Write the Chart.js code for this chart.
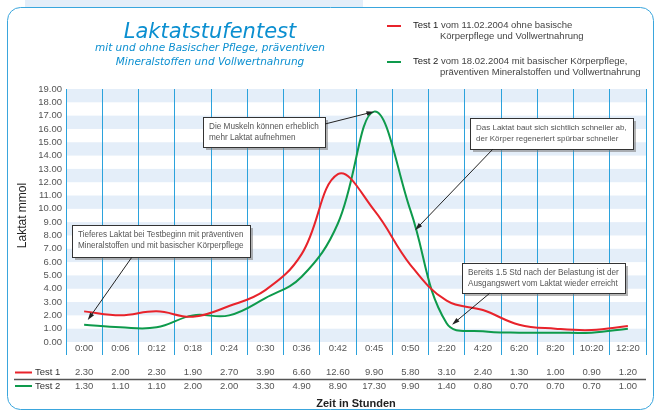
<!DOCTYPE html>
<html>
<head>
<meta charset="utf-8">
<script src="https://cdn.jsdelivr.net/npm/chart.js@4.4.1/dist/chart.umd.min.js"></script>
<style>
  html, body { margin: 0; padding: 0; background: #fff; }
  canvas { display: block; }
</style>
</head>
<body>
<canvas id="chart" width="656" height="411"></canvas>
<script>
"use strict";

// --- Daten ---
const zeiten = ['0:00', '0:06', '0:12', '0:18', '0:24', '0:30', '0:36', '0:42',
                '0:45', '0:50', '2:20', '4:20', '6:20', '8:20', '10:20', '12:20'];
const test1 = [2.30, 2.00, 2.30, 1.90, 2.70, 3.90, 6.60, 12.60, 9.90, 5.80, 3.10, 2.40, 1.30, 1.00, 0.90, 1.20];
const test2 = [1.30, 1.10, 1.10, 2.00, 2.00, 3.30, 4.90, 8.90, 17.30, 9.90, 1.40, 0.80, 0.70, 0.70, 0.70, 1.00];

const titel = 'Laktatstufentest';
const untertitel = ['mit und ohne Basischer Pflege, präventiven', 'Mineralstoffen und Vollwertnahrung'];
const legende1 = ['Test 1', 'vom 11.02.2004 ohne basische', 'Körperpflege und Vollwertnahrung'];
const legende2 = ['Test 2', 'vom 18.02.2004 mit basischer Körperpflege,', 'präventiven Mineralstoffen und Vollwertnahrung'];

const hinweisTexte = [
    ['Die Muskeln können erheblich', 'mehr Laktat aufnehmen'],
    ['Das Laktat baut sich sichtlich schneller ab,', 'der Körper regeneriert spürbar schneller'],
    ['Tieferes Laktat bei Testbeginn mit präventiven', 'Mineralstoffen und mit basischer Körperpflege'],
    ['Bereits 1.5 Std nach der Belastung ist der', 'Ausgangswert vom Laktat wieder erreicht']
];
// Pfeilziele in Datenkoordinaten (Kategorie-Index, mmol)
const hinweisZiele = [[8, 17.3], [9.13, 8.4], [0.1, 1.65], [10.15, 1.3]];


const ROT = '#e8232b';
const GRUEN = '#0e9a4c';
const BLAU = '#2ba2dc';
const FONT = '"Liberation Sans", Arial, sans-serif';

// Kästchen: x, y, Breite, Höhe, Pfeil-Start
const hinweisBoxen = [
    { x: 203, y: 117, w: 122, h: 30, sx: 325, sy: 124 },
    { x: 470, y: 118, w: 163, h: 31, sx: 493, sy: 149 },
    { x: 72, y: 225, w: 178, h: 32, sx: 132, sy: 257 },
    { x: 462, y: 263, w: 163, h: 30, sx: 490, sy: 293 }
];


function pfeil(c, x1, y1, x2, y2) {
    const a = Math.atan2(y2 - y1, x2 - x1);
    c.strokeStyle = '#222';
    c.fillStyle = '#222';
    c.lineWidth = 1;
    c.beginPath();
    c.moveTo(x1, y1);
    c.lineTo(x2 - 5 * Math.cos(a), y2 - 5 * Math.sin(a));
    c.stroke();
    c.beginPath();
    c.moveTo(x2, y2);
    c.lineTo(x2 - 8 * Math.cos(a - 0.3), y2 - 8 * Math.sin(a - 0.3));
    c.lineTo(x2 - 8 * Math.cos(a + 0.3), y2 - 8 * Math.sin(a + 0.3));
    c.closePath();
    c.fill();
}


const hintergrund = {
    id: 'hintergrund',
    beforeDraw(chart) {
        const c = chart.ctx;
        const area = chart.chartArea;
        const y = chart.scales.y;
        c.save();
        c.fillStyle = '#fff';
        c.fillRect(0, 0, chart.width, chart.height);
        c.fillStyle = '#e4eef9';
        c.fillRect(25, 0, 338, 7);

        // Rahmen
        c.strokeStyle = '#3aa6dd';
        c.lineWidth = 1;
        c.beginPath();
        c.roundRect(7.5, 7.5, 646, 402, 13);
        c.stroke();

        // Streifen
        c.fillStyle = '#e4eef9';
        for (let v = 0; v < 19; v += 2) {
            const top = y.getPixelForValue(v + 1);
            const bottom = y.getPixelForValue(v);
            c.fillRect(area.left, top, area.right - area.left, bottom - top);
        }
        c.restore();
    }
};


const beschriftung = {
    id: 'beschriftung',
    afterDraw(chart) {
        const c = chart.ctx;
        const x = chart.scales.x;
        const y = chart.scales.y;
        c.save();

        // Titel
        c.fillStyle = '#0b8fd0';
        c.textAlign = 'center';
        c.textBaseline = 'alphabetic';
        c.font = 'italic 21px "DejaVu Sans", sans-serif';
        c.fillText(titel, 210, 38);
        c.font = 'italic 10.5px "DejaVu Sans", sans-serif';
        c.fillText(untertitel[0], 210, 51);
        c.fillText(untertitel[1], 210, 65);

        // Legende oben rechts
        c.textAlign = 'left';
        c.font = '9.5px ' + FONT;
        c.lineWidth = 2;
        [[legende1, ROT, 26], [legende2, GRUEN, 62]].forEach(([txt, farbe, ly]) => {
            c.strokeStyle = farbe;
            c.beginPath();
            c.moveTo(387, ly);
            c.lineTo(401, ly);
            c.stroke();
            c.fillStyle = '#222';
            c.fillText(txt[0], 413, ly + 2);
            c.fillStyle = '#444';
            c.fillText(txt[1], 413 + c.measureText(txt[0] + ' ').width, ly + 2);
            c.fillText(txt[2], 440, ly + 13);
        });

        // Tabelle
        const zeilen = [[test1, ROT, 'Test 1', 372.5], [test2, GRUEN, 'Test 2', 386]];
        c.textBaseline = 'middle';
        zeilen.forEach(([werte, farbe, name, ty]) => {
            c.strokeStyle = farbe;
            c.lineWidth = 2;
            c.beginPath();
            c.moveTo(15, ty);
            c.lineTo(32, ty);
            c.stroke();
            c.textAlign = 'left';
            c.fillStyle = '#333';
            c.fillText(name, 35, ty);
            c.textAlign = 'center';
            c.fillStyle = '#555';
            werte.forEach((v, i) => c.fillText(v.toFixed(2), x.getPixelForValue(i), ty));
        });
        c.strokeStyle = '#555';
        c.lineWidth = 1.5;
        c.beginPath();
        c.moveTo(14, 379.5);
        c.lineTo(646, 379.5);
        c.stroke();

        // Hinweise
        c.textAlign = 'left';
        hinweisBoxen.forEach((b, i) => {
            c.fillStyle = 'rgba(120,120,120,0.55)';
            c.fillRect(b.x + 3, b.y + 3, b.w, b.h);
            c.fillStyle = '#fff';
            c.fillRect(b.x, b.y, b.w, b.h);
            c.strokeStyle = '#333';
            c.lineWidth = 1;
            c.strokeRect(b.x + 0.5, b.y + 0.5, b.w, b.h);
            // Schriftgröße an die Kastenbreite anpassen
            c.font = '10px ' + FONT;
            const breit = Math.max(...hinweisTexte[i].map(t => c.measureText(t).width));
            const groesse = Math.min(8.5, 10 * (b.w - 12) / breit);
            c.font = groesse.toFixed(2) + 'px ' + FONT;
            c.fillStyle = '#555';
            hinweisTexte[i].forEach((t, k) => c.fillText(t, b.x + 6, b.y + 10 + k * 11));
            const [zi, zv] = hinweisZiele[i];
            pfeil(c, b.sx, b.sy, x.getPixelForValue(zi), y.getPixelForValue(zv));
        });

        c.restore();
    }
};


const ctx = document.getElementById('chart').getContext('2d');
const chart = new Chart(ctx, {
    type: 'line',
    data: {
        labels: zeiten,
        datasets: [{
            label: 'Test 1',
            data: test1,
            borderColor: ROT,
            borderWidth: 2,
            pointRadius: 0,
            tension: 0.4,
            fill: false
        }, {
            label: 'Test 2',
            data: test2,
            borderColor: GRUEN,
            borderWidth: 2,
            pointRadius: 0,
            tension: 0.4,
            fill: false
        }]
    },
    options: {
        responsive: false,
        animation: false,
        layout: {
            padding: { top: 89, right: 10, left: 0, bottom: 0 }
        },
        plugins: {
            legend: { display: false },
            title: { display: false },
            tooltip: { enabled: false }
        },
        scales: {
            x: {
                offset: true,
                grid: {
                    offset: true,
                    color: BLAU,
                    lineWidth: 1,
                    drawTicks: true,
                    tickLength: 13,
                    tickColor: BLAU
                },
                border: { display: false },
                ticks: {
                    padding: -12,
                    color: '#555',
                    font: { family: FONT, size: 9.5 },
                    maxRotation: 0,
                    autoSkip: false
                },
                title: {
                    display: true,
                    text: 'Zeit in Stunden',
                    color: '#222',
                    font: { family: FONT, size: 11, weight: 'bold' },
                    padding: 0
                },
                afterFit: s => { s.height = 69; }
            },
            y: {
                min: 0,
                max: 19,
                ticks: {
                    stepSize: 1,
                    autoSkip: false,
                    callback: v => Number(v).toFixed(2),
                    color: '#555',
                    font: { family: FONT, size: 9.5 },
                    padding: 4
                },
                grid: { display: false, drawTicks: false },
                border: { display: false },
                title: {
                    display: true,
                    text: 'Laktat mmol',
                    color: '#222',
                    font: { family: FONT, size: 12 },
                    padding: { top: 15, bottom: 0 }
                },
                afterFit: s => { s.width = 66; }
            }
        }
    },
    plugins: [hintergrund, beschriftung]
});
</script>
</body>
</html>
